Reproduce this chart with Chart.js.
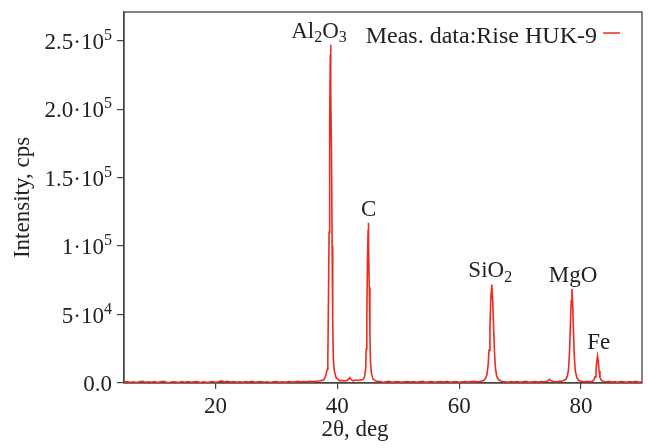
<!DOCTYPE html>
<html>
<head>
    <title>XRD - Rise HUK-9</title>
    <style>
        * { margin: 0; padding: 0; box-sizing: border-box; }
        body { background: #fff; }
        canvas { display: block; }
    </style>
</head>
<body>
    <canvas id="xrdChart" width="648" height="448"></canvas>
    <script src="https://cdn.jsdelivr.net/npm/chart.js"></script>
    <script>
        // 2theta (deg) and intensity (cps)
        var twoTheta = [
            5, 5.5, 6, 6.5, 7, 7.5, 8, 8.5, 9, 9.5,
            10, 10.5, 11, 11.5, 12, 12.5, 13, 13.5, 14, 14.5,
            15, 15.5, 16, 16.5, 17, 17.5, 18, 18.5, 19, 19.5,
            20, 20.5, 21, 21.5, 22, 22.5, 23, 23.5, 24, 24.5,
            25, 25.5, 26, 26.5, 27, 27.5, 28, 28.5, 29, 29.5,
            30, 30.5, 31, 31.5, 32, 32.5, 33, 33.5, 34, 34.5,
            35, 35.5, 36, 36.5, 37, 37.5,
            37.75, 38.05, 38.35, 38.45, 38.55, 38.65, 38.75, 38.85, 38.9, 38.95, 39.05, 39.15, 39.25, 39.35, 39.5, 39.8,
            40.1, 40.4, 40.8, 41.2, 41.6, 41.9, 42.05, 42.25, 42.6, 43, 43.4, 43.8,
            44.2, 44.45, 44.65, 44.75, 44.85, 44.95, 45.05, 45.1, 45.15, 45.25, 45.35, 45.45, 45.6, 45.85, 46.25, 46.7,
            47, 47.5, 48, 48.5, 49, 49.5, 50, 50.5, 51, 51.5,
            52, 52.5, 53, 53.5, 54, 54.5, 55, 55.5, 56, 56.5,
            57, 57.5, 58, 58.5, 59, 59.5, 60, 60.5, 61, 61.5,
            62, 62.5, 63, 63.5,
            64, 64.3, 64.55, 64.75, 64.9, 65.05, 65.2, 65.35, 65.5, 65.65, 65.8, 65.95, 66.15, 66.45, 66.9,
            67.5, 68, 68.5, 69, 69.5, 70, 70.5, 71, 71.5, 72,
            72.5, 73, 73.5, 74, 74.5, 74.8, 75.1, 75.5, 76, 76.5,
            77.1, 77.5, 77.75, 77.95, 78.1, 78.25, 78.38, 78.5, 78.62, 78.75, 78.9, 79.05, 79.3, 79.6, 80,
            80.5, 81, 81.5, 81.9,
            82.1, 82.3, 82.45, 82.58, 82.7, 82.82, 82.95, 83.1, 83.35, 83.7,
            84.2, 84.6, 85, 85.5, 86, 86.5, 87, 87.5, 88, 88.5, 89, 89.5, 90
        ];
        var intensity = [
            600, 1100, 400, 900, 300, 800, 1200, 500, 900, 600,
            1000, 400, 800, 1200, 600, 300, 900, 700, 400, 1000,
            600, 1100, 500, 800, 1000, 400, 900, 600, 700, 1100,
            500, 900, 1500, 800, 1200, 700, 1000, 500, 900, 600,
            1000, 700, 1300, 500, 800, 1100, 600, 900, 400, 800,
            1000, 600, 900, 500, 1100, 700, 800, 1200, 900, 1100,
            900, 1200, 1000, 1300, 1500, 1900,
            2300, 4500, 10000, 20000, 60000, 110000, 190000, 240000, 247000, 211000, 170000, 100000, 45000, 18000, 9000, 4000,
            2600, 1700, 1900, 1500, 1900, 3000, 3900, 2600, 1600, 2200, 1800, 2300,
            2500, 4000, 10000, 25000, 50000, 88000, 112000, 117000, 100000, 70000, 35000, 15000, 7000, 3000, 1600, 1100,
            1100, 600, 900, 1200, 500, 800, 1000, 600, 900, 1100,
            700, 1000, 500, 900, 1200, 600, 800, 1100, 500, 900,
            1000, 700, 1200, 600, 900, 1100, 500, 800, 1000, 700,
            1000, 1200, 900, 1300,
            1800, 3000, 6000, 13000, 24000, 42000, 62000, 72000, 60000, 40000, 22000, 11000, 5000, 2400, 1300,
            900, 600, 1100, 700, 1000, 500, 900, 1200, 600, 800,
            1000, 700, 1100, 900, 1500, 2600, 1700, 1100, 800, 1200,
            1600, 2600, 5000, 10000, 22000, 42000, 60000, 68700, 58000, 38000, 19000, 9000, 4000, 2000, 1200,
            900, 1300, 800, 1400,
            2200, 4500, 9500, 16000, 19700, 16000, 9000, 4000, 1900, 1100,
            900, 1200, 700, 1000, 600, 1100, 800, 500, 1000, 700, 1200, 600, 900
        ];

        // phase labels over the peaks (label x in deg, peak height in cps)
        var peakNames = ['Al_2O_3', 'C', 'SiO_2', 'MgO', 'Fe'];
        var peakLabelX = [37.0, 45.15, 65.1, 78.7, 82.9];
        var peakHeight = [247000, 117000, 72000, 68700, 19700];

        var xTicks = [20, 40, 60, 80];
        var yTicks = [0, 50000, 100000, 150000, 200000, 250000];
        var yTickBase = ['0.0', '5\u00b710', '1\u00b710', '1.5\u00b710', '2.0\u00b710', '2.5\u00b710'];
        var yTickExp = ['', '4', '5', '5', '5', '5'];

        var seriesName = 'Meas. data:Rise HUK-9';
        var FONT = '"Liberation Serif", "Times New Roman", serif';
        var RED = '#ee2a1e';
        var AXIS = '#444';
        var TEXT = '#222';

        function splitSub(str) {
            var out = [];
            str.split(/(_\d+)/).forEach(function (s) {
                if (!s) return;
                if (s[0] === '_') out.push({ t: s.slice(1), sub: true });
                else out.push({ t: s });
            });
            return out;
        }

        // draws text pieces, some lowered (sub) or raised (sup)
        function drawRich(ctx, list, x, y, align, size) {
            var w = 0;
            list.forEach(function (p) {
                ctx.font = ((p.sub || p.sup) ? Math.round(size * 0.68) : size) + 'px ' + FONT;
                p.w = ctx.measureText(p.t).width;
                w += p.w;
            });
            var cx = align === 'center' ? x - w / 2 : (align === 'right' ? x - w : x);
            ctx.textAlign = 'left';
            ctx.textBaseline = 'alphabetic';
            list.forEach(function (p) {
                ctx.font = ((p.sub || p.sup) ? Math.round(size * 0.68) : size) + 'px ' + FONT;
                var dy = p.sub ? size * 0.2 : (p.sup ? -size * 0.38 : 0);
                ctx.fillText(p.t, cx, y + dy);
                cx += p.w;
            });
        }

        var annotate = {
            id: 'annotate',
            beforeDatasetsDraw: function (chart) {
                var a = chart.chartArea, ctx = chart.ctx;
                ctx.save();
                ctx.strokeStyle = AXIS;
                ctx.lineWidth = 1.3;
                ctx.strokeRect(a.left, a.top, a.right - a.left, a.bottom - a.top);
                ctx.restore();
            },
            afterDraw: function (chart) {
                var ctx = chart.ctx, a = chart.chartArea;
                var xs = chart.scales.x, ys = chart.scales.y;
                ctx.save();
                ctx.fillStyle = TEXT;

                // y tick labels with powers of ten
                yTicks.forEach(function (v, i) {
                    var py = ys.getPixelForValue(v);
                    var list = [{ t: yTickBase[i] }];
                    if (yTickExp[i]) list.push({ t: yTickExp[i], sup: true });
                    drawRich(ctx, list, a.left - 12, py + 8, 'right', 23);
                });

                // axis titles
                ctx.save();
                ctx.translate(23, (a.top + a.bottom) / 2);
                ctx.rotate(-Math.PI / 2);
                ctx.font = '23px ' + FONT;
                ctx.textAlign = 'center';
                ctx.textBaseline = 'middle';
                ctx.fillText('Intensity, cps', 0, 0);
                ctx.restore();

                ctx.font = '23px ' + FONT;
                ctx.textAlign = 'center';
                ctx.textBaseline = 'alphabetic';
                ctx.fillText('2\u03b8, deg', 355, 436);

                // peak labels
                peakNames.forEach(function (name, i) {
                    var px = xs.getPixelForValue(peakLabelX[i]);
                    var py = ys.getPixelForValue(peakHeight[i]);
                    drawRich(ctx, splitSub(name), px, py - 7, 'center', 23);
                });

                // legend
                ctx.font = '24px ' + FONT;
                ctx.textAlign = 'right';
                ctx.fillText(seriesName, a.right - 45, 43);
                ctx.strokeStyle = RED;
                ctx.lineWidth = 1.5;
                ctx.beginPath();
                ctx.moveTo(a.right - 39, 33);
                ctx.lineTo(a.right - 22, 33);
                ctx.stroke();
                ctx.restore();
            }
        };

        var points = twoTheta.map(function (t, i) { return { x: t, y: intensity[i] }; });

        var ctx = document.getElementById('xrdChart').getContext('2d');
        var xrdChart = new Chart(ctx, {
            type: 'line',
            data: {
                datasets: [{
                    label: seriesName,
                    data: points,
                    borderColor: RED,
                    borderWidth: 1.6,
                    pointRadius: 0,
                    tension: 0,
                    fill: false
                }]
            },
            options: {
                responsive: false,
                animation: false,
                devicePixelRatio: 1,
                layout: { padding: { top: 12, right: 6, left: 0, bottom: 0 } },
                plugins: {
                    legend: { display: false },
                    tooltip: { enabled: false }
                },
                scales: {
                    x: {
                        type: 'linear',
                        min: 5,
                        max: 90,
                        afterBuildTicks: function (s) { s.ticks = xTicks.map(function (v) { return { value: v }; }); },
                        afterFit: function (s) { s.height = 65; },
                        grid: { drawOnChartArea: false, tickLength: 6, color: AXIS, lineWidth: 1.2 },
                        border: { color: AXIS, width: 1.3 },
                        ticks: { color: TEXT, padding: 4, maxRotation: 0, font: { family: FONT, size: 23 } }
                    },
                    y: {
                        type: 'linear',
                        min: 0,
                        max: 271000,
                        afterBuildTicks: function (s) { s.ticks = yTicks.map(function (v) { return { value: v }; }); },
                        afterFit: function (s) { s.width = 124; },
                        grid: { drawOnChartArea: false, tickLength: 7, color: AXIS, lineWidth: 1.2 },
                        border: { color: AXIS, width: 1.3 },
                        ticks: { display: false }
                    }
                }
            },
            plugins: [annotate]
        });
    </script>
</body>
</html>
